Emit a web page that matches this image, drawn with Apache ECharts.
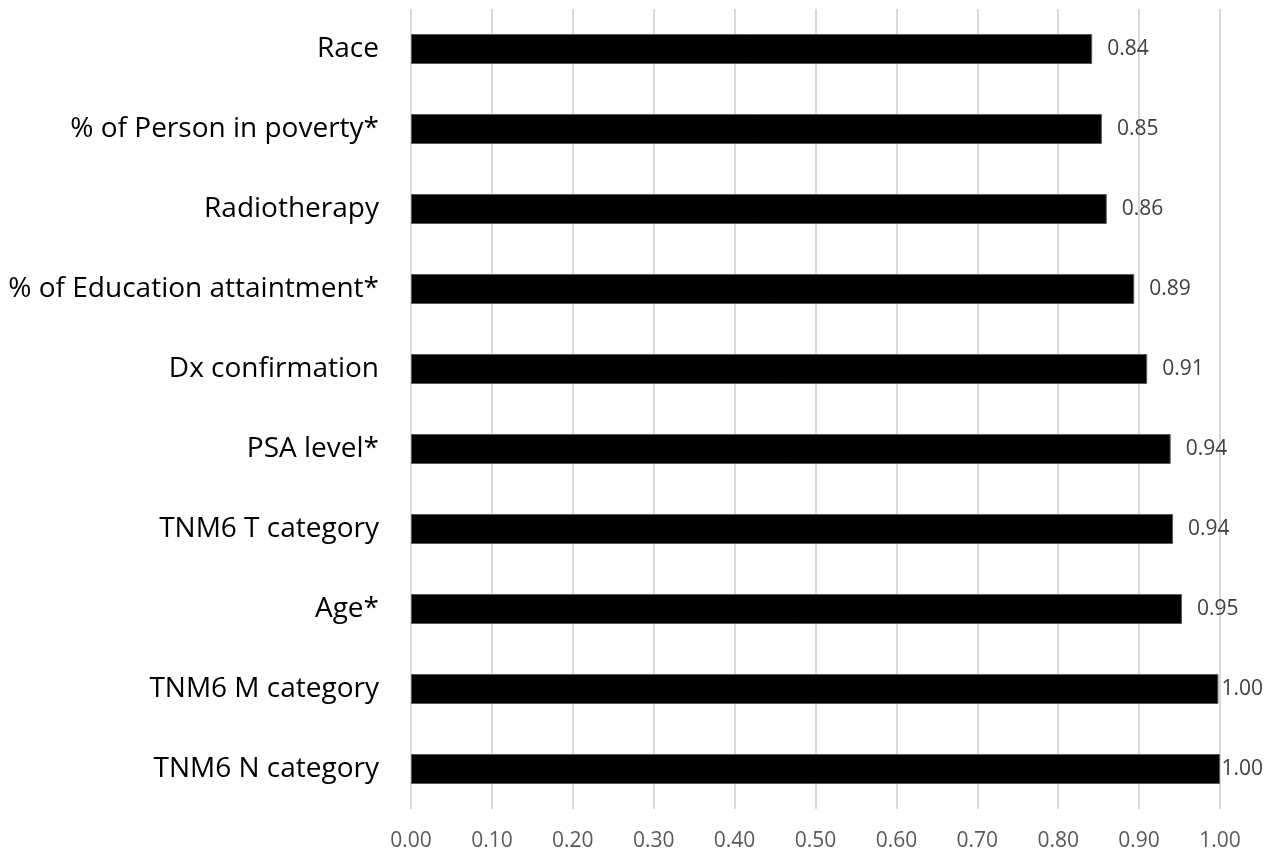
<!DOCTYPE html>
<html>
<head>
<meta charset="utf-8">
<script src="https://cdn.jsdelivr.net/npm/echarts@6/dist/echarts.min.js"></script>
<style>
  html, body { margin: 0; padding: 0; background: #ffffff; }
  #chart { width: 1267px; height: 851px; }
</style>
</head>
<body>
<div id="chart"></div>
<script>
// Variables, listed from the top bar down
const categories = [
  'Race',
  '% of Person in poverty*',
  'Radiotherapy',
  '% of Education attaintment*',
  'Dx confirmation',
  'PSA level*',
  'TNM6 T category',
  'Age*',
  'TNM6 M category',
  'TNM6 N category'
];
const values = [0.842, 0.854, 0.860, 0.894, 0.910, 0.939, 0.942, 0.953, 0.998, 1.000];

// x-axis range and step
const axisMin = 0;
const axisMax = 1;
const axisStep = 0.1;

const CHART_W = 1267;
const FONT = '"Open Sans", Lato, "Liberation Sans", sans-serif';

const chart = echarts.init(document.getElementById('chart'), null, { renderer: 'canvas' });

chart.setOption({
  backgroundColor: '#ffffff',
  animation: false,
  grid: {
    left: 411, right: 47, top: 9, bottom: 42,
    containLabel: false,
    outerBoundsMode: 'none'
  },
  xAxis: {
    type: 'value',
    min: axisMin,
    max: axisMax,
    interval: axisStep,
    axisLine: { show: false },
    axisTick: { show: false },
    splitLine: { show: true, lineStyle: { color: '#d9d9d9', width: 2 } },
    axisLabel: {
      color: '#595959',
      fontFamily: FONT,
      fontSize: 21,
      margin: 22,
      formatter: v => v.toFixed(2)
    }
  },
  yAxis: {
    type: 'category',
    data: categories,
    inverse: true,
    axisLine: { show: false },
    axisTick: { show: false },
    splitLine: { show: false },
    axisLabel: {
      color: '#000000',
      fontFamily: FONT,
      fontSize: 28,
      margin: 32
    }
  },
  series: [{
    type: 'bar',
    data: values,
    barWidth: 30,
    itemStyle: { color: '#000000', borderColor: '#595959', borderWidth: 1 },
    label: {
      show: true,
      position: 'right',
      distance: 15,
      color: '#404040',
      fontFamily: FONT,
      fontSize: 21,
      formatter: p => p.value.toFixed(2)
    },
    // keep value labels inside the chart's right edge
    labelLayout: function (params) {
      const r = params.labelRect;
      const limit = CHART_W - 4;
      const over = r.x + r.width - limit;
      return over > 0 ? { dx: -over } : {};
    }
  }]
});
</script>
</body>
</html>
